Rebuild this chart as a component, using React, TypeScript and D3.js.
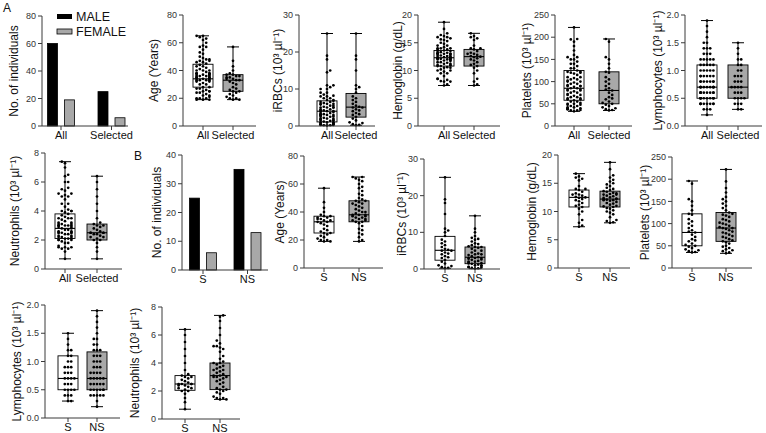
import React from 'react';
import * as d3 from 'd3';

// ---------- DATA ----------
const groupsA = ['All', 'Selected'];
const groupsB = ['S', 'NS'];
const maleA = [60, 25];
const femaleA = [19, 6];
const maleB = [25, 35];
const femaleB = [6, 13];

const ageS = [19,19,20,20,21,22,23,24,25,25,26,27,28,30,31,32,33,33,34,34,35,35,36,36,37,37,38,40,43,47,57];
const ageNS = [19,20,22,24,25,27,28,30,32,33,33,34,34,35,35,36,36,37,37,38,38,38,39,40,40,41,42,43,44,45,46,46,47,48,48,49,50,52,53,55,57,58,60,62,63,64,65,65];
const irbcS = [0.2,0.3,0.5,0.8,1,1.5,2,2.5,3,3.2,3.5,4,4.2,4.5,5,5,5.2,5.5,6,6.5,7,7.5,8,9,10,10.5,11,15,18,19,25];
const irbcNS = [0.1,0.2,0.3,0.4,0.5,0.6,0.8,1,1,1.2,1.4,1.5,1.6,1.8,2,2,2.2,2.5,2.6,2.8,3,3,3,3.2,3.5,3.8,4,4,4.2,4.5,5,5,5.5,5.8,6,6,6.2,6.5,6.8,7,7.5,8,8.2,8.5,9,10,11,14.5];
const hbS = [7.3,7.5,8,8.5,9.5,10,10.5,10.8,11,11.2,11.5,11.8,12,12.2,12.4,12.5,12.6,12.8,13,13,13.2,13.5,13.8,14,14,14.5,15.5,15.8,16,16.2,16.7];
const hbNS = [8,8.1,8.3,8.5,9,9.5,9.8,10,10.2,10.5,10.6,10.8,10.9,11,11.2,11.4,11.5,11.7,11.9,12,12,12.1,12.2,12.2,12.3,12.4,12.5,12.7,12.8,13,13,13.1,13.2,13.3,13.5,13.6,13.8,14,14.2,14.5,14.8,15,15.3,15.6,16,16.4,17.5,18.7];
const pltS = [35,36,38,40,42,45,48,50,52,55,60,62,65,70,75,80,82,85,90,95,100,105,110,120,122,130,140,150,155,190,196];
const pltNS = [33,35,38,40,42,45,48,50,55,58,60,62,65,68,70,72,75,78,80,82,85,88,90,90,92,95,98,100,102,105,108,110,115,118,120,122,125,130,135,140,145,150,155,160,170,180,195,222];
const lymS = [0.3,0.3,0.4,0.4,0.4,0.5,0.5,0.5,0.5,0.6,0.6,0.6,0.7,0.7,0.7,0.7,0.8,0.8,0.8,0.9,0.9,0.9,1.0,1.0,1.1,1.1,1.2,1.2,1.3,1.4,1.5];
const lymNS = [0.2,0.3,0.4,0.4,0.4,0.4,0.4,0.5,0.5,0.5,0.5,0.5,0.5,0.6,0.6,0.6,0.6,0.6,0.7,0.7,0.7,0.7,0.7,0.8,0.8,0.8,0.8,0.9,0.9,0.9,1.0,1.0,1.0,1.1,1.1,1.1,1.2,1.2,1.2,1.3,1.3,1.4,1.4,1.5,1.6,1.7,1.8,1.9];
const neuS = [0.7,1.2,1.5,1.8,2,2,2.1,2.2,2.2,2.3,2.4,2.4,2.5,2.5,2.5,2.5,2.6,2.7,2.8,2.9,3,3,3.1,3.2,3.5,4,4.5,5,5.5,6,6.4];
const neuNS = [1.4,1.4,1.5,1.5,1.6,1.8,1.9,2,2.1,2.1,2.2,2.3,2.5,2.6,2.7,2.8,2.9,3,3,3,3.1,3.1,3.2,3.3,3.4,3.5,3.5,3.6,3.7,3.8,3.9,4,4,4.1,4.3,4.5,4.8,5,5.1,5.2,5.2,5.4,5.6,6,6.5,7,7.3,7.4];

// box summaries [min, q1, median, q3, max]
const ageBox = { All: [19,28,34,44.5,65], Selected: [19,25,33,37,57], S: [19,25,33,37,57], NS: [19,33,38,48,65] };
const irbcBox = { All: [0.2,1.1,4.0,6.8,25], Selected: [0.2,2.4,5.1,8.8,25], S: [0.2,2.4,5.1,8.9,25], NS: [0.1,1.45,3.2,6.0,14.5] };
const hbBox = { All: [7.3,10.8,12.3,13.6,18.7], Selected: [7.3,10.8,12.5,13.8,16.7], S: [7.3,10.8,12.5,13.8,16.7], NS: [8.0,10.8,12.2,13.6,18.7] };
const pltBox = { All: [33,58,85,125,222], Selected: [35,50,80,122,196], S: [35,50,80,122,196], NS: [33,60,90,125,222] };
const lymBox = { All: [0.2,0.5,0.7,1.1,1.9], Selected: [0.3,0.5,0.7,1.1,1.5], S: [0.3,0.5,0.7,1.1,1.5], NS: [0.2,0.5,0.7,1.17,1.9] };
const neuBox = { All: [0.7,2.1,2.8,3.8,7.4], Selected: [0.7,2.0,2.5,3.1,6.4], S: [0.7,2.05,2.5,3.1,6.4], NS: [1.4,2.1,3.1,4.0,7.4] };

const ageTicks = [0, 20, 40, 60, 80];
const irbcTicks = [0, 10, 20, 30];
const hbTicks = [0, 5, 10, 15, 20];
const pltTicks = [0, 50, 100, 150, 200, 250];
const lymTicks = [0, 0.5, 1.0, 1.5, 2.0];
const neuTicks = [0, 2, 4, 6, 8];
const countTicksA = [0, 20, 40, 60, 80];
const countTicksB = [0, 10, 20, 30, 40];

const FONT = '"Liberation Sans", Arial, Helvetica, sans-serif';
const GRAY = '#a8a8a8';
const AXIS = '#3a3a3a';

function swarm(values: number[], y: (v: number) => number, cx: number, half: number) {
  const placed: { x: number; y: number }[] = [];
  const ys = values.map(v => y(v)).sort((a, b) => b - a);
  const step = 3.2;
  const minD = 3.2;
  ys.forEach((py, idx) => {
    let chosen = cx;
    const sgn = idx % 2 ? 1 : -1;
    for (let k = 0; k < 30; k++) {
      const off = k === 0 ? 0 : (k % 2 ? sgn : -sgn) * Math.ceil(k / 2) * step;
      if (Math.abs(off) > half) break;
      const px = cx + off;
      chosen = px;
      if (placed.every(p => (p.x - px) ** 2 + (p.y - py) ** 2 >= minD * minD)) break;
    }
    placed.push({ x: chosen, y: py });
  });
  return placed;
}

type AxisProps = { axisX: number; yTop: number; yBot: number; xEnd: number; y: d3.ScaleLinear<number, number>; ticks: number[]; fmt: (v: number) => string; label: string; labelX: number; cats: string[]; x: (c: string) => number };

function Axes({ axisX, yTop, yBot, xEnd, y, ticks, fmt, label, labelX, cats, x }: AxisProps) {
  return (
    <g>
      <line x1={axisX} x2={axisX} y1={yTop} y2={yBot} stroke={AXIS} strokeWidth={1} />
      <line x1={axisX} x2={xEnd} y1={yBot} y2={yBot} stroke={AXIS} strokeWidth={1} />
      {ticks.map(t => (
        <g key={t}>
          <line x1={axisX - 4} x2={axisX} y1={y(t)} y2={y(t)} stroke={AXIS} />
          <text x={axisX - 6} y={y(t)} dy="0.35em" textAnchor="end" fontSize={9} fill="#333" fontFamily={FONT}>{fmt(t)}</text>
        </g>
      ))}
      {cats.map(c => (
        <g key={c}>
          <line x1={x(c)} x2={x(c)} y1={yBot} y2={yBot + 4} stroke={AXIS} />
          <text x={x(c)} y={yBot + 13} textAnchor="middle" fontSize={11} fill="#111" fontFamily={FONT}>{c}</text>
        </g>
      ))}
      <text transform={`translate(${labelX},${(yTop + yBot) / 2}) rotate(-90)`} textAnchor="middle" dy="0.35em" fontSize={12} fill="#111" fontFamily={FONT}>{label}</text>
    </g>
  );
}

type BoxPanelProps = { axisX: number; yTop: number; yBot: number; xEnd: number; max: number; ticks: number[]; fmt: (v: number) => string; label: string; labelX: number; cats: string[]; centers: number[]; stats: Record<string, number[]>; points: number[][] };

function BoxPanel(p: BoxPanelProps) {
  const y = d3.scaleLinear().domain([0, p.max]).range([p.yBot, p.yTop]);
  const xs = d3.scaleOrdinal<string, number>().domain(p.cats).range(p.centers);
  const bw = 20, cw = 12;
  return (
    <g>
      {p.cats.map((c, i) => {
        const cx = xs(c);
        const [mn, q1, md, q3, mx] = p.stats[c];
        const pts = swarm(p.points[i], y, cx, 9.6);
        return (
          <g key={c}>
            <line x1={cx} x2={cx} y1={y(mx)} y2={y(q3)} stroke="#000" />
            <line x1={cx} x2={cx} y1={y(q1)} y2={y(mn)} stroke="#000" />
            <line x1={cx - cw / 2} x2={cx + cw / 2} y1={y(mx)} y2={y(mx)} stroke="#000" />
            <line x1={cx - cw / 2} x2={cx + cw / 2} y1={y(mn)} y2={y(mn)} stroke="#000" />
            <rect x={cx - bw / 2} y={y(q3)} width={bw} height={y(q1) - y(q3)} fill={i === 0 ? '#fff' : GRAY} stroke="#000" strokeWidth={0.9} />
            <line x1={cx - bw / 2} x2={cx + bw / 2} y1={y(md)} y2={y(md)} stroke="#000" strokeWidth={1.1} />
            {pts.map((q, k) => <circle key={k} cx={q.x} cy={q.y} r={1.35} fill="#000" />)}
          </g>
        );
      })}
      <Axes {...p} y={y} x={(c: string) => xs(c)} />
    </g>
  );
}

type BarPanelProps = { axisX: number; yTop: number; yBot: number; xEnd: number; max: number; ticks: number[]; label: string; labelX: number; cats: string[]; centers: number[]; male: number[]; female: number[] };

function BarPanel(p: BarPanelProps) {
  const y = d3.scaleLinear().domain([0, p.max]).range([p.yBot, p.yTop]);
  const xs = d3.scaleOrdinal<string, number>().domain(p.cats).range(p.centers);
  const bw = 10, gap = 3.5;
  return (
    <g>
      {p.cats.map((c, i) => {
        const cx = xs(c);
        return (
          <g key={c}>
            <rect x={cx - gap - bw} y={y(p.male[i])} width={bw} height={p.yBot - y(p.male[i])} fill="#000" stroke="#000" strokeWidth={0.8} />
            <rect x={cx + gap} y={y(p.female[i])} width={bw} height={p.yBot - y(p.female[i])} fill={GRAY} stroke="#000" strokeWidth={0.8} />
          </g>
        );
      })}
      <Axes {...p} fmt={d3.format('d')} y={y} x={(c: string) => xs(c)} />
    </g>
  );
}

const fInt = d3.format('d');
const f1 = d3.format('.1f');

export default function App() {
  const allOf = (s: number[], n: number[]) => [...s, ...n];
  return (
    <div style={{ position: 'absolute', left: 0, top: 0 }}>
      <svg width={766} height={433} style={{ display: 'block', background: '#fff' }}>
        <text x={3} y={12} fontSize={12} fontFamily={FONT} fill="#111">A</text>
        <text x={134} y={160} fontSize={12} fontFamily={FONT} fill="#111">B</text>

        <BarPanel axisX={42} yTop={16} yBot={126} xEnd={128} max={80} ticks={countTicksA} label="No. of individuals" labelX={14} cats={groupsA} centers={[61, 111.5]} male={maleA} female={femaleA} />
        <rect x={57} y={14} width={15} height={5} fill="#000" />
        <text x={76} y={21} fontSize={12.5} fontFamily={FONT} fill="#111">MALE</text>
        <rect x={57} y={29} width={15} height={5} fill={GRAY} stroke="#000" strokeWidth={0.8} />
        <text x={76} y={36} fontSize={12.5} fontFamily={FONT} fill="#111">FEMALE</text>

        <BoxPanel axisX={183} yTop={15} yBot={126} xEnd={256} max={80} ticks={ageTicks} fmt={fInt} label="Age  (Years)" labelX={154} cats={groupsA} centers={[203, 233]} stats={ageBox} points={[allOf(ageS, ageNS), ageS]} />
        <BoxPanel axisX={299} yTop={15} yBot={126} xEnd={375} max={30} ticks={irbcTicks} fmt={fInt} label="iRBCs (10³ µl⁻¹)" labelX={278} cats={groupsA} centers={[327, 356]} stats={irbcBox} points={[allOf(irbcS, irbcNS), irbcS]} />
        <BoxPanel axisX={418} yTop={15} yBot={126} xEnd={500} max={20} ticks={hbTicks} fmt={fInt} label="Hemoglobin (g/dL)" labelX={398} cats={groupsA} centers={[444, 474]} stats={hbBox} points={[allOf(hbS, hbNS), hbS]} />
        <BoxPanel axisX={555} yTop={15} yBot={126} xEnd={632} max={250} ticks={pltTicks} fmt={fInt} label="Platelets (10³ µl⁻¹)" labelX={527} cats={groupsA} centers={[574, 609]} stats={pltBox} points={[allOf(pltS, pltNS), pltS]} />
        <BoxPanel axisX={685} yTop={15} yBot={126} xEnd={762} max={2} ticks={lymTicks} fmt={f1} label="Lymphocytes (10³ µl⁻¹)" labelX={658} cats={groupsA} centers={[707, 738]} stats={lymBox} points={[allOf(lymS, lymNS), lymS]} />

        <BoxPanel axisX={45} yTop={153} yBot={269} xEnd={122} max={8} ticks={neuTicks} fmt={fInt} label="Neutrophils (10³ µl⁻¹)" labelX={15} cats={groupsA} centers={[65, 97]} stats={neuBox} points={[allOf(neuS, neuNS), neuS]} />
        <BarPanel axisX={182} yTop={155} yBot={270} xEnd={268} max={40} ticks={countTicksB} label="No. of individuals" labelX={157} cats={groupsB} centers={[203, 247.5]} male={maleB} female={femaleB} />
        <BoxPanel axisX={304} yTop={156} yBot={268} xEnd={383} max={80} ticks={ageTicks} fmt={fInt} label="Age  (Years)" labelX={280} cats={groupsB} centers={[324, 359]} stats={ageBox} points={[ageS, ageNS]} />
        <BoxPanel axisX={424} yTop={159} yBot={269} xEnd={500} max={30} ticks={irbcTicks} fmt={fInt} label="iRBCs (10³ µl⁻¹)" labelX={402} cats={groupsB} centers={[445, 475]} stats={irbcBox} points={[irbcS, irbcNS]} />
        <BoxPanel axisX={558} yTop={155} yBot={268} xEnd={630} max={20} ticks={hbTicks} fmt={fInt} label="Hemoglobin (g/dL)" labelX={532} cats={groupsB} centers={[579, 610]} stats={hbBox} points={[hbS, hbNS]} />
        <BoxPanel axisX={672} yTop={157} yBot={268} xEnd={752} max={250} ticks={pltTicks} fmt={fInt} label="Platelets (10³ µl⁻¹)" labelX={645} cats={groupsB} centers={[692, 726]} stats={pltBox} points={[pltS, pltNS]} />

        <BoxPanel axisX={45} yTop={305} yBot={418} xEnd={120} max={2} ticks={lymTicks} fmt={f1} label="Lymphocytes (10³ µl⁻¹)" labelX={17} cats={groupsB} centers={[68, 97]} stats={lymBox} points={[lymS, lymNS]} />
        <BoxPanel axisX={162} yTop={307} yBot={419} xEnd={240} max={8} ticks={neuTicks} fmt={fInt} label="Neutrophils (10³ µl⁻¹)" labelX={135} cats={groupsB} centers={[185, 220]} stats={neuBox} points={[neuS, neuNS]} />
      </svg>
    </div>
  );
}
